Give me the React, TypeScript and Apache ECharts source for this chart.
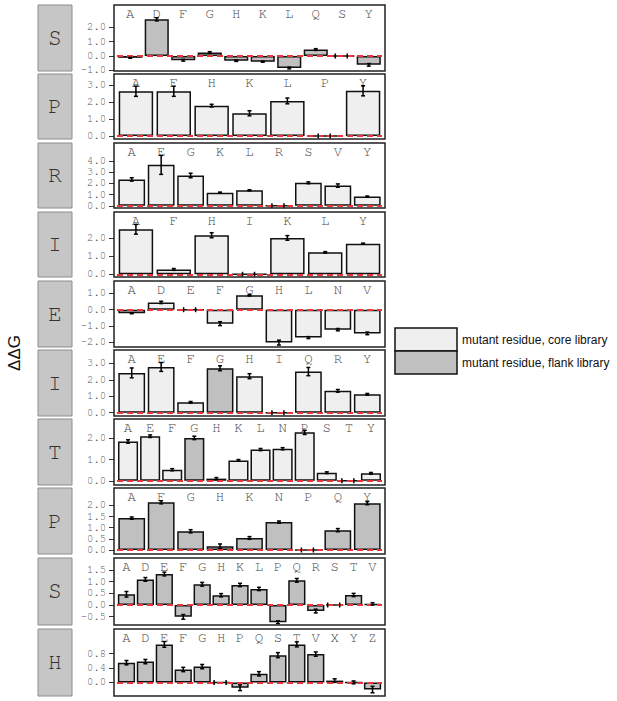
import React, { useEffect, useRef } from "react";
import * as echarts from "echarts";

// ---- data ----
const s1Cats = ["A", "D", "F", "G", "H", "K", "L", "Q", "S", "Y"];
const s1Vals = [-0.13, 2.56, -0.3, 0.24, -0.33, -0.4, -0.84, 0.45, 0, -0.62];
const s1Errs = [0.03, 0.11, 0.06, 0.06, 0.05, 0.04, 0.06, 0.06, 0, 0.09];
const s1Flank = [1, 1, 1, 1, 1, 1, 1, 1, 1, 1];
const s1Ticks = [-1, 0, 1, 2];

const p2Cats = ["A", "F", "H", "K", "L", "P", "Y"];
const p2Vals = [2.65, 2.65, 1.8, 1.35, 2.08, 0, 2.68];
const p2Errs = [0.3, 0.3, 0.08, 0.15, 0.17, 0, 0.3];
const p2Flank = [0, 0, 0, 0, 0, 0, 0];
const p2Ticks = [0, 1, 2, 3];

const r3Cats = ["A", "E", "G", "K", "L", "R", "S", "V", "Y"];
const r3Vals = [2.35, 3.65, 2.7, 1.17, 1.38, 0, 2.05, 1.8, 0.82];
const r3Errs = [0.15, 0.85, 0.2, 0.05, 0.05, 0, 0.08, 0.15, 0.05];
const r3Flank = [0, 0, 0, 0, 0, 0, 0, 0, 0];
const r3Ticks = [0, 1, 2, 3, 4];

const i4Cats = ["A", "F", "H", "I", "K", "L", "Y"];
const i4Vals = [2.5, 0.27, 2.17, 0, 2.02, 1.22, 1.7];
const i4Errs = [0.27, 0.05, 0.14, 0, 0.13, 0.04, 0.03];
const i4Flank = [0, 0, 0, 0, 0, 0, 0];
const i4Ticks = [0, 1, 2];

const e5Cats = ["A", "D", "E", "F", "G", "H", "L", "N", "V"];
const e5Vals = [-0.22, 0.45, 0, -0.86, 0.89, -2.03, -1.72, -1.23, -1.46];
const e5Errs = [0.03, 0.07, 0, 0.12, 0.04, 0.15, 0.06, 0.07, 0.08];
const e5Flank = [0, 0, 0, 0, 0, 0, 0, 0, 0];
const e5Ticks = [-2, -1, 0, 1];

const i6Cats = ["A", "E", "F", "G", "H", "I", "Q", "R", "Y"];
const i6Vals = [2.42, 2.78, 0.63, 2.7, 2.22, 0, 2.5, 1.33, 1.12];
const i6Errs = [0.3, 0.27, 0.05, 0.15, 0.15, 0, 0.25, 0.08, 0.05];
const i6Flank = [0, 0, 0, 1, 0, 0, 0, 0, 0];
const i6Ticks = [0, 1, 2, 3];

const t7Cats = ["A", "E", "F", "G", "H", "K", "L", "N", "P", "S", "T", "Y"];
const t7Vals = [1.85, 2.1, 0.52, 2.02, 0.1, 0.96, 1.47, 1.51, 2.28, 0.38, 0, 0.35];
const t7Errs = [0.08, 0.06, 0.05, 0.08, 0.05, 0.04, 0.05, 0.05, 0.1, 0.04, 0, 0.04];
const t7Flank = [0, 0, 0, 1, 0, 0, 0, 0, 0, 0, 0, 0];
const t7Ticks = [0, 0.5, 1, 1.5, 2];

const p8Cats = ["A", "F", "G", "H", "K", "N", "P", "Q", "Y"];
const p8Vals = [1.43, 2.14, 0.84, 0.17, 0.54, 1.25, 0, 0.89, 2.1];
const p8Errs = [0.05, 0.07, 0.07, 0.1, 0.06, 0.05, 0, 0.07, 0.07];
const p8Flank = [1, 1, 1, 1, 1, 1, 1, 1, 1];
const p8Ticks = [0, 0.5, 1, 1.5, 2];

const s9Cats = ["A", "D", "E", "F", "G", "H", "K", "L", "P", "Q", "R", "S", "T", "V"];
const s9Vals = [0.46, 1.1, 1.33, -0.51, 0.89, 0.42, 0.86, 0.69, -0.74, 1.06, -0.26, 0, 0.43, 0.05];
const s9Errs = [0.12, 0.08, 0.08, 0.1, 0.08, 0.07, 0.07, 0.07, 0.06, 0.08, 0.08, 0, 0.07, 0.05];
const s9Flank = [1, 1, 1, 1, 1, 1, 1, 1, 1, 1, 1, 1, 1, 1];
const s9Ticks = [-0.5, 0, 0.5, 1, 1.5];

const h10Cats = ["A", "D", "E", "F", "G", "H", "P", "Q", "S", "T", "V", "X", "Y", "Z"];
const h10Vals = [0.55, 0.58, 1.06, 0.36, 0.44, 0, -0.15, 0.24, 0.76, 1.06, 0.79, 0.05, 0, -0.2];
const h10Errs = [0.06, 0.06, 0.08, 0.06, 0.06, 0, 0.08, 0.06, 0.07, 0.07, 0.06, 0.05, 0.04, 0.09];
const h10Flank = [1, 1, 1, 1, 1, 1, 1, 1, 1, 1, 1, 1, 1, 1];
const h10Ticks = [0, 0.4, 0.8];

const panelResidues = ["S", "P", "R", "I", "E", "I", "T", "P", "S", "H"];
const legendLabels = ["mutant residue, core library", "mutant residue, flank library"];
const yTitle = "ΔΔG";

// ---- layout ----
const TOPS = [5, 74, 143, 212, 281, 350, 419, 488, 558, 629];
const HEIGHTS = [66, 65, 65, 65, 66, 66, 66, 66, 67, 67];
const RANGES = [
  [-1.05, 3.56], [-0.17, 3.67], [-0.2, 5.6], [-0.15, 3.46], [-2.3, 1.77],
  [-0.2, 3.81], [-0.2, 2.91], [-0.18, 2.78], [-0.86, 2.02], [-0.38, 1.49],
];
const FRAME_X = 114;
const FRAME_W = 271;
const INSET = 3;
const LIGHT = "#efefef";
const DARK = "#c0c0c0";
const MONO = "'Nimbus Mono PS', 'Nimbus Mono L', FreeMono, 'Courier New', Courier, 'Liberation Mono', monospace";
const SANS = "'Liberation Sans', Arial, sans-serif";

const panels = [
  { cats: s1Cats, vals: s1Vals, errs: s1Errs, flank: s1Flank, ticks: s1Ticks },
  { cats: p2Cats, vals: p2Vals, errs: p2Errs, flank: p2Flank, ticks: p2Ticks },
  { cats: r3Cats, vals: r3Vals, errs: r3Errs, flank: r3Flank, ticks: r3Ticks },
  { cats: i4Cats, vals: i4Vals, errs: i4Errs, flank: i4Flank, ticks: i4Ticks },
  { cats: e5Cats, vals: e5Vals, errs: e5Errs, flank: e5Flank, ticks: e5Ticks },
  { cats: i6Cats, vals: i6Vals, errs: i6Errs, flank: i6Flank, ticks: i6Ticks },
  { cats: t7Cats, vals: t7Vals, errs: t7Errs, flank: t7Flank, ticks: t7Ticks },
  { cats: p8Cats, vals: p8Vals, errs: p8Errs, flank: p8Flank, ticks: p8Ticks },
  { cats: s9Cats, vals: s9Vals, errs: s9Errs, flank: s9Flank, ticks: s9Ticks },
  { cats: h10Cats, vals: h10Vals, errs: h10Errs, flank: h10Flank, ticks: h10Ticks },
];

function errorRender(params: any, api: any) {
  const i = api.value(0);
  const v = api.value(1);
  const e = api.value(2);
  const st = { stroke: "#000", lineWidth: 1.5 };
  if (e === 0) {
    const p = api.coord([i, 0]);
    return {
      type: "group",
      children: [
        { type: "line", shape: { x1: p[0] - 7, y1: p[1] - 2.5, x2: p[0] - 7, y2: p[1] + 2.5 }, style: st },
        { type: "line", shape: { x1: p[0] + 5, y1: p[1] - 2.5, x2: p[0] + 5, y2: p[1] + 2.5 }, style: st },
      ],
    };
  }
  const a = api.coord([i, v + e]);
  const b = api.coord([i, v - e]);
  const x = a[0];
  const cap = 2;
  return {
    type: "group",
    children: [
      { type: "line", shape: { x1: x, y1: a[1], x2: x, y2: b[1] }, style: st },
      { type: "line", shape: { x1: x - cap, y1: a[1], x2: x + cap, y2: a[1] }, style: st },
      { type: "line", shape: { x1: x - cap, y1: b[1], x2: x + cap, y2: b[1] }, style: st },
    ],
  };
}

export default function App() {
  const ref = useRef<HTMLDivElement>(null);
  useEffect(() => {
    if (!ref.current) return;
    const chart = echarts.init(ref.current, null, { renderer: "svg" });
    const grid: any[] = [];
    const xAxis: any[] = [];
    const yAxis: any[] = [];
    const series: any[] = [];
    const graphic: any[] = [];

    panels.forEach((p, k) => {
      const top = TOPS[k];
      const h = HEIGHTS[k];
      grid.push({ left: FRAME_X + INSET, width: FRAME_W - 2 * INSET, top, height: h, containLabel: false });
      xAxis.push({
        gridIndex: k,
        type: "category",
        data: p.cats,
        position: "top",
        axisLine: { show: false },
        axisTick: { show: false },
        splitLine: { show: false },
        axisLabel: {
          inside: true,
          margin: 2,
          interval: 0,
          fontFamily: MONO,
          fontSize: 14,
          color: "#444",
        },
      });
      yAxis.push({
        gridIndex: k,
        type: "value",
        min: RANGES[k][0],
        max: RANGES[k][1],
        offset: INSET,
        axisLine: { show: false },
        splitLine: { show: false },
        axisTick: { show: true, length: 5, customValues: p.ticks, lineStyle: { color: "#333", width: 1 } },
        axisLabel: {
          customValues: p.ticks,
          showMinLabel: true,
          showMaxLabel: true,
          hideOverlap: false,
          margin: 8,
          fontFamily: MONO,
          fontSize: 10.5,
          lineHeight: 10,
          color: "#555",
          formatter: (v: number) => v.toFixed(1),
        },
      });
      series.push({
        type: "bar",
        xAxisIndex: k,
        yAxisIndex: k,
        barCategoryGap: "9%",
        data: p.vals.map((v, i) => ({ value: v, itemStyle: { color: p.flank[i] ? DARK : LIGHT } })),
        itemStyle: { borderColor: "#111", borderWidth: 1.5 },
        markLine: {
          silent: true,
          symbol: "none",
          label: { show: false },
          lineStyle: { color: "#e8383d", type: [6, 4], width: 2 },
          data: [{ yAxis: 0 }],
        },
        z: 2,
      });
      series.push({
        type: "custom",
        xAxisIndex: k,
        yAxisIndex: k,
        renderItem: errorRender,
        data: p.cats.map((c, i) => [i, p.vals[i], p.errs[i]]),
        encode: { x: 0, y: 1 },
        z: 5,
      });
      // frame
      graphic.push({
        type: "rect",
        shape: { x: FRAME_X, y: top, width: FRAME_W, height: h },
        style: { fill: "none", stroke: "#222", lineWidth: 1.5 },
        z: 10,
      });
      // residue label box
      graphic.push({
        type: "rect",
        shape: { x: 38, y: top, width: 34, height: h },
        style: { fill: "#c6c6c6", stroke: "#8c8c8c", lineWidth: 1 },
        z: 1,
      });
      graphic.push({
        type: "text",
        x: 55,
        y: top + h / 2,
        style: {
          text: panelResidues[k],
          fontFamily: MONO,
          fontSize: 23,
          fill: "#333",
          align: "center",
          verticalAlign: "middle",
          textAlign: "center",
          textVerticalAlign: "middle",
        },
        z: 2,
      });
    });

    // y title
    graphic.push({
      type: "text",
      x: 14,
      y: 353,
      rotation: Math.PI / 2,
      style: {
        text: yTitle,
        fontFamily: SANS,
        fontSize: 17,
        fill: "#111",
        align: "center",
        verticalAlign: "middle",
        textAlign: "center",
        textVerticalAlign: "middle",
      },
    });

    // legend
    const lgColors = [LIGHT, DARK];
    legendLabels.forEach((t, i) => {
      const y = 328 + i * 23;
      graphic.push({
        type: "rect",
        shape: { x: 395, y, width: 62, height: 23 },
        style: { fill: lgColors[i], stroke: "#111", lineWidth: 1.5 },
      });
      graphic.push({
        type: "text",
        x: 462,
        y: y + 11.5,
        style: {
          text: t,
          fontFamily: SANS,
          fontSize: 12,
          fill: "#111",
          align: "left",
          verticalAlign: "middle",
          textAlign: "left",
          textVerticalAlign: "middle",
        },
      });
    });

    chart.setOption({
      animation: false,
      backgroundColor: "#fff",
      grid,
      xAxis,
      yAxis,
      series,
      graphic,
    });
    return () => chart.dispose();
  }, []);
  return (
    <div
      ref={ref}
      style={{ position: "absolute", left: 0, top: 0, width: 617, height: 701 }}
    />
  );
}
